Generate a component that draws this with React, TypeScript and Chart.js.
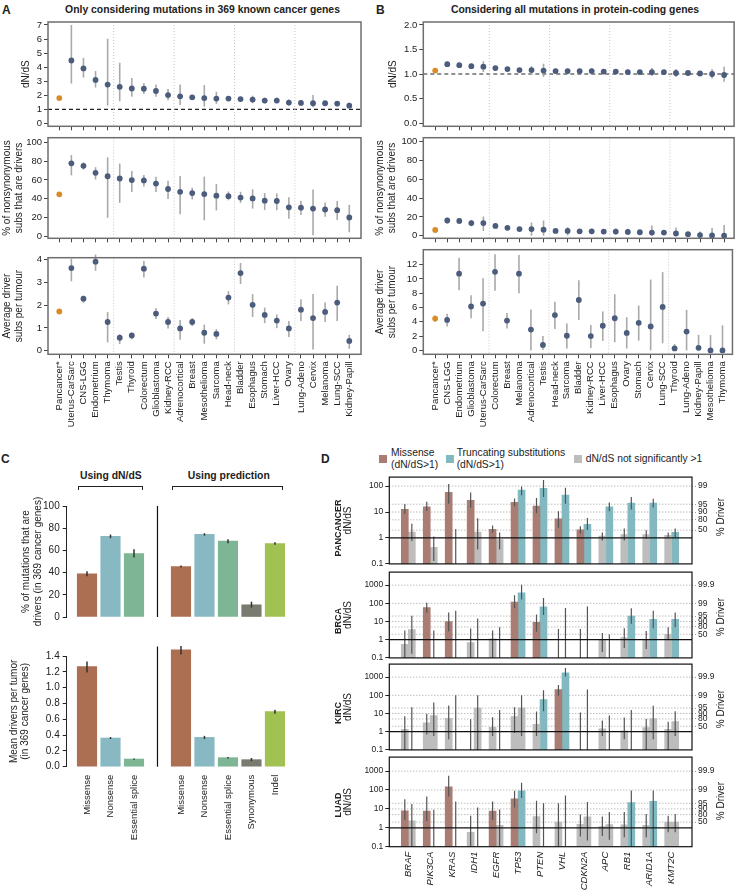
import React, { useEffect, useRef } from "react";
import { Chart, registerables } from "chart.js";

Chart.register(...registerables);

const FONT = "'Liberation Sans', Arial, Helvetica, sans-serif";
Chart.defaults.font.family = FONT;
Chart.defaults.color = "#222";

// ---------------- Panel A data ----------------
const A_CATS = ["Pancancer*", "Uterus-CarSarc", "CNS-LGG", "Endometrium", "Thymoma", "Testis", "Thyroid", "Colorectum", "Glioblastoma", "Kidney-RCC", "Adrenocortical", "Breast", "Mesothelioma", "Sarcoma", "Head-neck", "Bladder", "Esophagus", "Stomach", "Liver-HCC", "Ovary", "Lung-Adeno", "Cervix", "Melanoma", "Lung-SCC", "Kidney-Papill"];
const A_DNDS = [1.80, 4.47, 3.91, 3.09, 2.76, 2.60, 2.48, 2.46, 2.30, 2.01, 1.92, 1.85, 1.80, 1.76, 1.76, 1.73, 1.69, 1.62, 1.62, 1.48, 1.45, 1.43, 1.43, 1.41, 1.26];
const A_DNDS_LO = [null, 2.83, 3.26, 2.55, 1.26, 1.57, 1.90, 2.08, 1.90, 1.64, 1.31, 1.71, 1.19, 1.38, 1.64, 1.62, 1.43, 1.43, 1.43, 1.26, 1.31, 1.15, 1.29, 1.22, 1.08];
const A_DNDS_HI = [null, 7.0, 4.66, 3.72, 6.02, 4.31, 3.23, 2.86, 2.76, 2.44, 2.76, 2.01, 2.72, 2.25, 1.87, 1.87, 1.97, 1.83, 1.83, 1.69, 1.62, 2.01, 1.55, 1.59, 1.48];
const A_PCT = [44.6, 77.7, 75.0, 67.6, 63.9, 61.5, 59.8, 59.5, 56.1, 50.3, 47.3, 45.9, 44.9, 43.2, 42.6, 41.2, 40.2, 37.8, 37.5, 30.7, 30.4, 29.4, 28.4, 27.7, 19.9];
const A_PCT_LO = [null, 64.9, 70.9, 60.5, 19.6, 35.5, 47.0, 53.0, 47.0, 39.5, 23.3, 39.2, 16.9, 27.4, 38.2, 35.5, 29.4, 28.0, 27.7, 18.6, 22.6, 1.0, 20.6, 17.2, 4.1];
const A_PCT_HI = [null, 86.5, 78.7, 73.6, 84.1, 77.4, 69.6, 65.2, 63.5, 59.1, 64.2, 51.7, 63.5, 55.7, 47.6, 47.3, 50.0, 45.9, 45.6, 41.6, 37.8, 49.7, 35.8, 37.5, 33.4];
const A_DRV = [1.72, 3.62, 2.28, 3.90, 1.26, 0.57, 0.67, 3.59, 1.63, 1.26, 0.98, 1.26, 0.79, 0.74, 2.33, 3.40, 2.01, 1.57, 1.32, 0.98, 1.80, 1.43, 1.70, 2.11, 0.43];
const A_DRV_LO = [null, 3.04, 2.10, 3.50, 0.37, 0.30, 0.51, 3.21, 1.39, 0.98, 0.48, 1.08, 0.31, 0.50, 2.03, 2.92, 1.48, 1.21, 0.99, 0.60, 1.30, 0.06, 1.26, 1.30, 0.09];
const A_DRV_HI = [null, 4.03, 2.41, 4.21, 1.69, 0.72, 0.79, 3.93, 1.86, 1.48, 1.35, 1.43, 1.15, 0.95, 2.61, 3.84, 2.48, 1.89, 1.59, 1.30, 2.26, 2.48, 2.11, 2.84, 0.70];

// ---------------- Panel B data ----------------
const B_CATS = ["Pancancer*", "CNS-LGG", "Endometrium", "Glioblastoma", "Uterus-CarSarc", "Colorectum", "Breast", "Melanoma", "Adrenocortical", "Testis", "Head-neck", "Sarcoma", "Bladder", "Kidney-RCC", "Liver-HCC", "Esophagus", "Ovary", "Stomach", "Cervix", "Lung-SCC", "Thyroid", "Lung-Adeno", "Kidney-Papill", "Mesothelioma", "Thymoma"];
const B_DNDS = [1.07, 1.20, 1.18, 1.16, 1.15, 1.12, 1.10, 1.08, 1.08, 1.07, 1.06, 1.06, 1.06, 1.06, 1.05, 1.05, 1.04, 1.04, 1.04, 1.04, 1.02, 1.02, 1.01, 1.00, 0.98];
const B_DNDS_LO = [null, 1.16, 1.15, 1.11, 1.04, 1.10, 1.08, 1.06, 0.98, 0.94, 1.04, 1.00, 1.04, 1.02, 1.00, 1.02, 0.99, 1.01, 0.96, 1.00, 0.94, 0.99, 0.97, 0.91, 0.84];
const B_DNDS_HI = [null, 1.25, 1.22, 1.21, 1.26, 1.14, 1.12, 1.10, 1.16, 1.21, 1.08, 1.11, 1.08, 1.11, 1.10, 1.08, 1.09, 1.07, 1.12, 1.08, 1.10, 1.05, 1.05, 1.10, 1.15];
const B_PCT = [6.1, 16.2, 15.8, 13.5, 13.5, 10.4, 8.4, 7.1, 7.1, 6.4, 5.1, 5.1, 4.7, 4.7, 4.4, 4.4, 4.0, 3.7, 3.4, 3.4, 2.4, 1.7, 0.7, 0.3, 0.0];
const B_PCT_LO = [null, 13.1, 12.5, 10.1, 5.1, 7.8, 6.5, 5.4, 0, 0, 3.5, 0.3, 3.4, 1.6, 1.7, 1.3, 1.3, 1.7, 0, 0.9, 0, 0.7, 0, 0, 0];
const B_PCT_HI = [null, 19.2, 18.9, 16.8, 20.5, 13.1, 10.4, 8.8, 14.1, 16.2, 6.7, 9.1, 6.1, 7.4, 7.1, 7.8, 7.4, 6.1, 10.8, 6.1, 8.8, 3.0, 4.4, 8.1, 11.4];
const B_DRV = [4.45, 4.27, 10.73, 6.14, 6.55, 11.0, 4.18, 10.73, 2.91, 0.77, 4.95, 2.05, 7.05, 2.0, 3.45, 4.5, 2.45, 3.86, 3.36, 6.09, 0.27, 2.64, 0.36, 0.0, 0.0];
const B_DRV_LO = [4.0, 3.36, 8.41, 4.5, 2.68, 8.36, 3.05, 8.0, 0, 0.05, 3.0, 0.27, 4.27, 0.32, 1.32, 1.14, 0.27, 1.36, 0, 1.0, 0, 0, 0, 0, 0];
const B_DRV_HI = [4.9, 5.14, 12.95, 7.73, 10.1, 13.45, 5.23, 13.36, 5.73, 2.0, 6.82, 3.77, 9.82, 3.55, 5.45, 7.86, 4.64, 6.27, 9.91, 10.95, 0.91, 5.68, 2.18, 2.14, 3.5];

// ---------------- Panel C data ----------------
const C_LABELS = ["Missense", "Nonsense", "Essential splice", "Missense", "Nonsense", "Essential splice", "Synonymous", "Indel"];
const C_SLOTS = [0, 1, 2, 4, 5, 6, 7, 8];
const C_TYPES = ["mis", "non", "spl", "mis", "non", "spl", "syn", "ind"];
const C_PCT = [38.9, 72.7, 57.2, 45.4, 74.4, 68.3, 11.0, 66.2];
const C_PCT_LO = [36.7, 71.0, 53.5, 44.5, 73.3, 66.5, 8.5, 65.0];
const C_PCT_HI = [41.2, 74.3, 61.0, 46.3, 75.5, 70.0, 13.8, 67.3];
const C_MEAN = [1.266, 0.363, 0.097, 1.477, 0.371, 0.114, 0.089, 0.696];
const C_MEAN_LO = [1.19, 0.35, 0.088, 1.42, 0.35, 0.105, 0.07, 0.67];
const C_MEAN_HI = [1.33, 0.375, 0.104, 1.53, 0.39, 0.122, 0.11, 0.72];

// ---------------- Panel D data ----------------
const D_GENES = ["BRAF", "PIK3CA", "KRAS", "IDH1", "EGFR", "TP53", "PTEN", "VHL", "CDKN2A", "APC", "RB1", "ARID1A", "KMT2C"];
// [dN/dS, low, high]; null dN/dS = no visible bar
const PAN_MIS = [[12.8, 8.5, 20.4], [15.9, 11, 25], [57.9, 21, 121], [28.4, 14.7, 56], [2.15, 1.64, 3.0], [23.4, 16.8, 33], [16.8, 8.9, 35], [5.5, 2.47, 10.6], [2.04, 1.5, 2.83], [1.18, 0.8, 1.64], [1.35, 0.8, 2.34], [1.35, 0.95, 1.98], [1.25, 1.06, 1.64]];
const PAN_MIS_SIG = [1, 1, 1, 1, 1, 1, 1, 1, 1, 0, 0, 0, 0];
const PAN_TRU = [[1.68, 0.76, 3.5], [0.44, 0.13, 1.15], [null, 0.1, 2.2], [1.68, 0.36, 5.8], [0.87, 0.36, 1.64], [70, 44, 97], [82.6, 38, 172], [45, 21, 87], [3.34, 2.04, 5.9], [15.9, 10.6, 23.4], [22.1, 12.5, 38], [22.1, 15, 32.5], [1.64, 1.06, 2.34]];
const PAN_TRU_SIG = [0, 0, 0, 0, 0, 1, 1, 1, 1, 1, 1, 1, 1];
const BRCA_MIS = [[0.56, 0.1, 3.2], [58, 30, 108], [10, 2.9, 31], [0.7, 0.1, 4.1], [1.12, 0.1, 3.2], [116, 53, 275], [8.9, 2.76, 24.6], [null, 0.1, 3.9], [null, 0.1, 3.9], [0.92, 0.21, 2.36], [1.31, 0.35, 4.2], [0.92, 0.31, 3.0], [2.0, 1.0, 4.8]];
const BRCA_MIS_SIG = [0, 1, 1, 0, 0, 1, 1, 0, 0, 0, 0, 0, 0];
const BRCA_TRU = [[3.6, 0.17, 21], [null, 0.1, 3.2], [null, 0.1, 39], [null, 0.1, 14.8], [null, 0.1, 4.8], [377, 160, 1040], [65, 22.7, 194], [null, 0.1, 55.7], [null, 0.1, 67.9], [null, 0.1, 1.94], [20.2, 7.6, 53.5], [13.1, 4.2, 39], [13.1, 4.8, 31]];
const BRCA_TRU_SIG = [0, 0, 0, 0, 0, 1, 1, 0, 0, 0, 1, 1, 1];
const KIRC_MIS = [[1.37, 0.1, 7.1], [3.1, 0.7, 9.7], [5.4, 0.39, 28], [null, 0.1, 4.8], [1.73, 0.58, 6.3], [6.8, 0.85, 22], [2.56, 0.58, 12.8], [207, 95, 373], [null, 0.1, 11.4], [1.42, 0.58, 4.1], [1.12, 0.39, 6.1], [1.66, 0.1, 5], [1.37, 0.1, 3.5]];
const KIRC_MIS_SIG = [0, 0, 0, 0, 0, 0, 0, 1, 0, 0, 0, 0, 0];
const KIRC_TRU = [[null, 0.1, 22], [7.7, 0.58, 40], [null, 0.1, 102], [19.7, 0.1, 102], [null, 0.1, 15.6], [20.5, 0.58, 102], [59, 13.3, 192], [1730, 1090, 3220], [null, 0.1, 207], [null, 0.1, 7.7], [null, 0.1, 15.6], [5.2, 0.39, 27], [3.65, 0.58, 13.3]];
const KIRC_TRU_SIG = [0, 0, 0, 0, 0, 0, 1, 1, 0, 0, 0, 0, 0];
const LUAD_MIS = [[8.0, 2.66, 32.8], [7.7, 2.19, 45], [146, 45, 574], [0.58, 0.1, 4.4], [7.7, 2.66, 25], [34, 11.8, 91], [3.94, 0.51, 27], [2.03, 0.1, 20], [1.54, 0.35, 5], [1.17, 0.37, 3.94], [1.42, 0.32, 6.8], [1.37, 0.32, 5.4], [2.03, 0.58, 4.4]];
const LUAD_MIS_SIG = [1, 1, 1, 0, 1, 1, 0, 0, 0, 0, 0, 0, 0];
const LUAD_TRU = [[2.37, 0.1, 18.2], [null, 0.1, 9], [null, 0.1, 25], [null, 0.1, 11.8], [1.37, 0.1, 9.4], [91, 38, 242], [null, 0.1, 20], [null, 0.1, 50.6], [3.8, 0.21, 23], [1.48, 0.23, 6.8], [21.3, 0.1, 95], [25, 0.1, 95], [2.03, 0.58, 5.4]];
const LUAD_TRU_SIG = [0, 0, 0, 0, 0, 1, 0, 0, 0, 0, 1, 1, 0];
const D_LEFT_TICKS = [0.1, 1, 10, 100, 1000];
const D_RIGHT_AT = [2, 5, 10, 20, 100, 1000];
const D_RIGHT_LABELS = ["50", "80", "90", "95", "99", "99.9"];

// ---------------- styles ----------------
const ORANGE = "#d98b26";
const SLATE = "#4b5c7c";
const ERR_AB = "#a9a9a9";
const C_COLORS: any = { mis: "#ad6f52", non: "#88b9c2", spl: "#7db595", syn: "#7a7b70", ind: "#a1c152" };
const D_MIS = "#a97d73";
const D_TRU = "#82b9c1";
const D_GRAY = "#bdbdbd";

function seg(ctx: any, x1: number, y1: number, x2: number, y2: number, s: any) {
  ctx.beginPath();
  ctx.setLineDash(s.dash || []);
  ctx.strokeStyle = s.color;
  ctx.lineWidth = s.width;
  ctx.moveTo(x1, y1);
  ctx.lineTo(x2, y2);
  ctx.stroke();
}

function drawErr(chart: any, spec: any) {
  const items = spec.err || [];
  if (!items.length) return;
  const { ctx, chartArea: ca } = chart;
  const xs = chart.scales.x, ys = chart.scales.y;
  ctx.save();
  if (spec.clipErr) {
    ctx.beginPath();
    ctx.rect(ca.left, ca.top, ca.right - ca.left, ca.bottom - ca.top);
    ctx.clip();
  }
  ctx.setLineDash([]);
  for (const e of items) {
    if (e.lo == null || e.hi == null) continue;
    const px = xs.getPixelForValue(e.x);
    ctx.beginPath();
    ctx.strokeStyle = spec.errColor;
    ctx.lineWidth = spec.errWidth;
    ctx.moveTo(px, ys.getPixelForValue(e.lo));
    ctx.lineTo(px, ys.getPixelForValue(e.hi));
    ctx.stroke();
  }
  ctx.restore();
}

function deco(spec: any) {
  return {
    id: "deco",
    beforeDatasetsDraw(chart: any) {
      const { ctx, chartArea: ca } = chart;
      const xs = chart.scales.x, ys = chart.scales.y;
      ctx.save();
      (spec.hlines || []).forEach((h: any) => {
        if (h.y > ys.max || h.y < ys.min) return;
        const py = ys.getPixelForValue(h.y);
        seg(ctx, ca.left, py, ca.right, py, h);
      });
      (spec.vlines || []).forEach((v: any) => {
        const px = xs.getPixelForValue(v.x);
        seg(ctx, px, ca.top - (v.up || 0), px, ca.bottom, v);
      });
      ctx.restore();
      if (!spec.errTop) drawErr(chart, spec);
    },
    afterDatasetsDraw(chart: any) {
      if (spec.errTop) drawErr(chart, spec);
      const { ctx, chartArea: ca } = chart;
      const ys = chart.scales.y;
      ctx.save();
      (spec.topLines || []).forEach((h: any) => {
        const py = ys.getPixelForValue(h.y);
        seg(ctx, ca.left, py, ca.right, py, h);
      });
      if (spec.box) {
        ctx.setLineDash([]);
        ctx.strokeStyle = spec.box.color;
        ctx.lineWidth = spec.box.width;
        ctx.strokeRect(ca.left, ca.top, ca.right - ca.left, ca.bottom - ca.top);
      }
      ctx.restore();
    },
  };
}

const baseOpts = (pad: any) => ({
  responsive: false,
  animation: false,
  events: [],
  layout: { padding: pad },
  plugins: { legend: { display: false }, tooltip: { enabled: false } },
});

function abConfig(p: any) {
  const err = p.vals.map((_: any, i: number) => ({ x: i, lo: p.lo[i], hi: p.hi[i] }));
  return {
    type: "scatter",
    data: {
      datasets: [{
        data: p.vals.map((v: number, i: number) => ({ x: i, y: v })),
        pointRadius: 2.9,
        pointHoverRadius: 2.9,
        pointBorderWidth: 0,
        pointBackgroundColor: p.vals.map((_: any, i: number) => (i === 0 ? ORANGE : SLATE)),
      }],
    },
    options: {
      ...baseOpts({ top: p.pt, right: p.pr, bottom: 0, left: 0 }),
      scales: {
        x: {
          type: "linear", min: p.xmin, max: p.xmax, offset: false,
          afterBuildTicks: (s: any) => { s.ticks = p.cats.map((_: any, i: number) => ({ value: i })); },
          afterFit: (s: any) => { s.height = p.xh; },
          grid: { display: true, drawOnChartArea: false, drawTicks: true, tickLength: 4, tickColor: "#444", tickWidth: 1 },
          border: { display: false },
          ticks: { display: p.showX, autoSkip: false, minRotation: 90, maxRotation: 90, padding: 3, font: { size: 9.5 }, color: "#222", callback: (v: number) => p.cats[v] ?? "" },
        },
        y: {
          type: "linear", min: p.ymin, max: p.ymax,
          afterBuildTicks: (s: any) => { s.ticks = p.yticks.map((v: number) => ({ value: v })); },
          afterFit: (s: any) => { s.width = p.yw; },
          grid: { display: true, drawOnChartArea: false, drawTicks: true, tickLength: 4, tickColor: "#444", tickWidth: 1 },
          border: { display: false },
          ticks: { padding: 2, font: { size: 9.5 }, color: "#222", callback: (v: number) => (p.yfmt ? p.yfmt(v) : String(v)) },
          title: { display: true, text: p.title, padding: { top: p.tpad, bottom: 0 }, font: { size: 10, lineHeight: 1.15 }, color: "#222" },
        },
      },
    },
    plugins: [deco({
      vlines: [4.5, 9.5, 14.5, 19.5].map((x) => ({ x, color: "#c8c8c8", width: 1, dash: [1, 2] })),
      hlines: p.ref ? [{ y: 1, color: "#222", width: 1.2, dash: [4, 3] }] : [],
      err, errColor: ERR_AB, errWidth: 1.6,
      box: { color: "#6e6e6e", width: 1.5 },
    })],
  };
}

function cConfig(p: any) {
  const err = C_SLOTS.map((s, i) => ({ x: s, lo: p.lo[i], hi: p.hi[i] }));
  return {
    type: "bar",
    data: {
      datasets: [{
        data: C_SLOTS.map((s, i) => ({ x: s, y: p.vals[i] })),
        backgroundColor: C_TYPES.map((t) => C_COLORS[t]),
        borderWidth: 0, barThickness: 19.5, grouped: false, clip: false,
      }],
    },
    options: {
      ...baseOpts({ top: p.pt, right: 10, bottom: 0, left: 0 }),
      scales: {
        x: {
          type: "linear", min: -0.864, max: 8.64, offset: false,
          afterBuildTicks: (s: any) => { s.ticks = C_SLOTS.map((v) => ({ value: v })); },
          afterFit: (s: any) => { s.height = p.xh; },
          grid: { display: false, drawTicks: false, offset: false },
          border: { display: false },
          ticks: { display: p.showX, autoSkip: false, minRotation: 90, maxRotation: 90, padding: 8, font: { size: 9.5 }, color: "#222", callback: (v: number) => C_LABELS[C_SLOTS.indexOf(v)] ?? "" },
        },
        y: {
          type: "linear", min: 0, max: p.ymax, beginAtZero: true,
          afterBuildTicks: (s: any) => { s.ticks = p.yticks.map((v: number) => ({ value: v })); },
          afterFit: (s: any) => { s.width = 66.7; },
          grid: { display: true, drawOnChartArea: false, drawTicks: true, tickLength: 4, tickColor: "#222", tickWidth: 1 },
          border: { display: true, color: "#222", width: 1 },
          ticks: { padding: 3, font: { size: 10 }, color: "#222", callback: p.yfmt },
          title: { display: true, text: p.title, padding: { top: p.tpad, bottom: 0 }, font: { size: 10, lineHeight: 1.15 }, color: "#222" },
        },
      },
    },
    plugins: [deco({
      vlines: [{ x: 3, up: p.sepUp, color: "#111", width: 1.2 }],
      err, errTop: true, errColor: "#333", errWidth: 1.5,
    })],
  };
}

function dConfig(p: any) {
  const ds = (arr: any[], sig: number[], off: number, color: string) => ({
    data: D_GENES.map((_, i) => ({ x: i + off, y: arr[i][0] })),
    backgroundColor: D_GENES.map((_, i) => (sig[i] ? color : D_GRAY)),
    borderWidth: 0, barThickness: 7, grouped: false,
  });
  const err = [
    ...p.mis.map((t: any, i: number) => ({ x: i - 0.16, lo: t[1], hi: t[2] })),
    ...p.tru.map((t: any, i: number) => ({ x: i + 0.16, lo: t[1], hi: t[2] })),
  ];
  return {
    type: "bar",
    data: { datasets: [ds(p.mis, p.misSig, -0.16, D_MIS), ds(p.tru, p.truSig, 0.16, D_TRU)] },
    options: {
      ...baseOpts({ top: p.pt, right: 0, bottom: p.pb, left: 0 }),
      scales: {
        x: {
          type: "linear", display: p.showX, min: -0.866, max: 12.925, offset: false,
          afterBuildTicks: (s: any) => { s.ticks = D_GENES.map((_, i) => ({ value: i })); },
          afterFit: (s: any) => { s.height = p.xh; },
          grid: { display: false, drawTicks: false, offset: false },
          border: { display: false },
          ticks: { autoSkip: false, minRotation: 90, maxRotation: 90, padding: 5, font: { size: 9.5, style: "italic" }, color: "#222", callback: (v: number) => D_GENES[v] ?? "" },
        },
        y: {
          type: "logarithmic", min: 0.1, max: p.ymax, beginAtZero: false,
          afterBuildTicks: (s: any) => { s.ticks = D_LEFT_TICKS.filter((v) => v <= p.ymax).map((v) => ({ value: v })); },
          afterFit: (s: any) => { s.width = 59.3; },
          grid: { display: true, drawOnChartArea: false, drawTicks: true, tickLength: 4, tickColor: "#222", tickWidth: 1 },
          border: { display: false },
          ticks: { padding: 2, font: { size: 8.5 }, color: "#222", autoSkip: false, callback: (v: number) => String(v) },
          title: { display: true, text: "dN/dS", padding: { top: 12.25, bottom: 0 }, font: { size: 10, lineHeight: 1.15 }, color: "#222" },
        },
        y2: {
          type: "logarithmic", position: "right", min: 0.1, max: p.ymax, beginAtZero: false,
          afterBuildTicks: (s: any) => { s.ticks = D_RIGHT_AT.filter((v) => v <= p.ymax).map((v) => ({ value: v })); },
          afterFit: (s: any) => { s.width = 30; },
          grid: { display: true, drawOnChartArea: false, drawTicks: true, tickLength: 4, tickColor: "#999", tickWidth: 1, tickBorderDash: [1, 2] },
          border: { display: false },
          ticks: { padding: 2, font: { size: 8.5 }, color: "#222", autoSkip: false, callback: (v: number) => D_RIGHT_LABELS[D_RIGHT_AT.indexOf(v)] ?? "" },
        },
      },
    },
    plugins: [deco({
      hlines: D_RIGHT_AT.map((y) => ({ y, color: "#a0a0a0", width: 1, dash: [1, 2] })),
      topLines: [{ y: 1, color: "#111", width: 1.3 }],
      err, errTop: true, errColor: "#555", errWidth: 1.2, clipErr: true,
      box: { color: "#111", width: 1.2 },
    })],
  };
}

function ChartCanvas({ x, y, w, h, make }: any) {
  const ref = useRef<HTMLCanvasElement>(null);
  useEffect(() => {
    const c = new Chart(ref.current as HTMLCanvasElement, make());
    return () => c.destroy();
  }, []);
  return <canvas ref={ref} width={w} height={h} style={{ position: "absolute", left: x, top: y, width: w, height: h }} />;
}

const T = ({ s, children }: any) => (
  <div style={{ position: "absolute", fontFamily: FONT, color: "#222", whiteSpace: "nowrap", ...s }}>{children}</div>
);
const Rot = ({ cx, cy, s, children }: any) => (
  <div style={{ position: "absolute", left: cx, top: cy, transform: "translate(-50%,-50%) rotate(-90deg)", fontFamily: FONT, color: "#222", whiteSpace: "nowrap", ...s }}>{children}</div>
);
const Bracket = ({ l, r, y }: any) => (
  <div style={{ position: "absolute", left: l, top: y, width: r - l, height: 4, borderTop: "1px solid #222", borderLeft: "1px solid #222", borderRight: "1px solid #222", boxSizing: "border-box" }} />
);
const Sq = ({ x, y, c }: any) => <div style={{ position: "absolute", left: x, top: y, width: 8, height: 8, background: c }} />;

const pct = [0, 20, 40, 60, 80, 100];

export default function App() {
  const AX = { cats: A_CATS, xmin: -0.935, xmax: 24.97, yw: 48, pr: 4 };
  const BX = { cats: B_CATS, xmin: -0.99, xmax: 24.83, yw: 51.3, pr: 2 };
  return (
    <div style={{ position: "absolute", left: 0, top: 0, width: 737, height: 893, background: "#fff", overflow: "hidden" }}>
      {/* Panel A */}
      <T s={{ left: 2, top: 3, fontSize: 12, fontWeight: "bold" }}>A</T>
      <T s={{ left: 202.5, top: 4, fontSize: 10.4, fontWeight: "bold", transform: "translateX(-50%)" }}>Only considering mutations in 369 known cancer genes</T>
      <ChartCanvas x={0} y={14} w={365} h={120} make={() => abConfig({ ...AX, vals: A_DNDS, lo: A_DNDS_LO, hi: A_DNDS_HI, ymin: -0.21, ymax: 7.21, yticks: [0, 1, 2, 3, 4, 5, 6, 7], title: "dN/dS", tpad: 20.25, pt: 8, xh: 6, showX: false, ref: true })} />
      <ChartCanvas x={0} y={130} w={365} h={116} make={() => abConfig({ ...AX, vals: A_PCT, lo: A_PCT_LO, hi: A_PCT_HI, ymin: -2.33, ymax: 105.07, yticks: pct, title: ["% of nonsynonymous", "subs that are drivers"], tpad: 1.75, pt: 4, xh: 6, showX: false })} />
      <ChartCanvas x={0} y={250} w={365} h={180} make={() => abConfig({ ...AX, vals: A_DRV, lo: A_DRV_LO, hi: A_DRV_HI, ymin: -0.153, ymax: 4.072, yticks: [0, 1, 2, 3, 4], title: ["Average driver", "subs per tumour"], tpad: 1.75, pt: 5, xh: 75.7, showX: true })} />

      {/* Panel B */}
      <T s={{ left: 376, top: 3, fontSize: 12, fontWeight: "bold" }}>B</T>
      <T s={{ left: 575, top: 4, fontSize: 10.4, fontWeight: "bold", transform: "translateX(-50%)" }}>Considering all mutations in protein-coding genes</T>
      <ChartCanvas x={372} y={14} w={365} h={120} make={() => abConfig({ ...BX, vals: B_DNDS, lo: B_DNDS_LO, hi: B_DNDS_HI, ymin: -0.066, ymax: 2.06, yticks: [0, 0.5, 1, 1.5, 2], yfmt: (v: number) => v.toFixed(1), title: "dN/dS", tpad: 15.25, pt: 8, xh: 6, showX: false, ref: true })} />
      <ChartCanvas x={372} y={130} w={365} h={116} make={() => abConfig({ ...BX, vals: B_PCT, lo: B_PCT_LO, hi: B_PCT_HI, ymin: -2.73, ymax: 104.3, yticks: pct, title: ["% of nonsynonymous", "subs that are drivers"], tpad: 2.95, pt: 4, xh: 6, showX: false })} />
      <ChartCanvas x={372} y={242} w={365} h={188} make={() => abConfig({ ...BX, vals: B_DRV, lo: B_DRV_LO, hi: B_DRV_HI, ymin: -0.545, ymax: 14.09, yticks: [0, 2, 4, 6, 8, 10, 12], title: ["Average driver", "subs per tumour"], tpad: 2.95, pt: 5, xh: 75.7, showX: true })} />

      {/* Panel C */}
      <T s={{ left: 1, top: 452, fontSize: 12, fontWeight: "bold" }}>C</T>
      <T s={{ left: 110.8, top: 469.5, fontSize: 10.4, fontWeight: "bold", transform: "translateX(-50%)" }}>Using dN/dS</T>
      <T s={{ left: 228.8, top: 469.5, fontSize: 10.4, fontWeight: "bold", transform: "translateX(-50%)" }}>Using prediction</T>
      <Bracket l={77.7} r={143.3} y={486.2} />
      <Bracket l={171.7} r={283.3} y={486.2} />
      <ChartCanvas x={0} y={496} w={300} h={130} make={() => cConfig({ vals: C_PCT, lo: C_PCT_LO, hi: C_PCT_HI, ymax: 100, yticks: pct, yfmt: (v: number) => String(v), title: ["% of mutations that are", "drivers (in 369 cancer genes)"], tpad: 20.5, pt: 10, xh: 1.7, showX: false, sepUp: 0 })} />
      <ChartCanvas x={0} y={646} w={300} h={206} make={() => cConfig({ vals: C_MEAN, lo: C_MEAN_LO, hi: C_MEAN_HI, ymax: 1.4, yticks: [0, 0.2, 0.4, 0.6, 0.8, 1.0, 1.2, 1.4], yfmt: (v: number) => v.toFixed(1), title: ["Mean drivers per tumor", "(in 369 cancer genes)"], tpad: 8, pt: 10, xh: 85.3, showX: true, sepUp: 9.5 })} />

      {/* Panel D */}
      <T s={{ left: 321, top: 452, fontSize: 12, fontWeight: "bold" }}>D</T>
      <Sq x={379} y={454.5} c={D_MIS} />
      <T s={{ left: 391, top: 447.3, fontSize: 10.3, lineHeight: "11.5px" }}>Missense<br />(dN/dS&gt;1)</T>
      <Sq x={446} y={454.5} c={D_TRU} />
      <T s={{ left: 456.7, top: 447.3, fontSize: 10.3, lineHeight: "11.5px" }}>Truncating substitutions<br />(dN/dS&gt;1)</T>
      <Sq x={574} y={454.5} c={D_GRAY} />
      <T s={{ left: 585.7, top: 452.5, fontSize: 10.3, lineHeight: "11.5px" }}>dN/dS not significantly &gt;1</T>

      <ChartCanvas x={330} y={470} w={392} h={101} make={() => dConfig({ mis: PAN_MIS, misSig: PAN_MIS_SIG, tru: PAN_TRU, truSig: PAN_TRU_SIG, ymax: 222, pt: 7, pb: 0.7, xh: 0, showX: false })} />
      <ChartCanvas x={330} y={565} w={392} h={100} make={() => dConfig({ mis: BRCA_MIS, misSig: BRCA_MIS_SIG, tru: BRCA_TRU, truSig: BRCA_TRU_SIG, ymax: 5200, pt: 5.3, pb: 2.3, xh: 0, showX: false })} />
      <ChartCanvas x={330} y={657} w={392} h={100} make={() => dConfig({ mis: KIRC_MIS, misSig: KIRC_MIS_SIG, tru: KIRC_TRU, truSig: KIRC_TRU_SIG, ymax: 5200, pt: 5.7, pb: 2, xh: 0, showX: false })} />
      <ChartCanvas x={330} y={750} w={392} h={143} make={() => dConfig({ mis: LUAD_MIS, misSig: LUAD_MIS_SIG, tru: LUAD_TRU, truSig: LUAD_TRU_SIG, ymax: 5500, pt: 5, pb: 0, xh: 46.3, showX: true })} />

      <Rot cx={337.5} cy={528} s={{ fontSize: 9, fontWeight: "bold" }}>PANCANCER</Rot>
      <Rot cx={337.5} cy={620.5} s={{ fontSize: 9, fontWeight: "bold" }}>BRCA</Rot>
      <Rot cx={337.5} cy={712.8} s={{ fontSize: 9, fontWeight: "bold" }}>KIRC</Rot>
      <Rot cx={337.5} cy={804.8} s={{ fontSize: 9, fontWeight: "bold" }}>LUAD</Rot>
      <Rot cx={720} cy={517} s={{ fontSize: 10 }}>% Driver</Rot>
      <Rot cx={720} cy={617} s={{ fontSize: 10 }}>% Driver</Rot>
      <Rot cx={720} cy={709} s={{ fontSize: 10 }}>% Driver</Rot>
      <Rot cx={720} cy={801} s={{ fontSize: 10 }}>% Driver</Rot>
    </div>
  );
}
